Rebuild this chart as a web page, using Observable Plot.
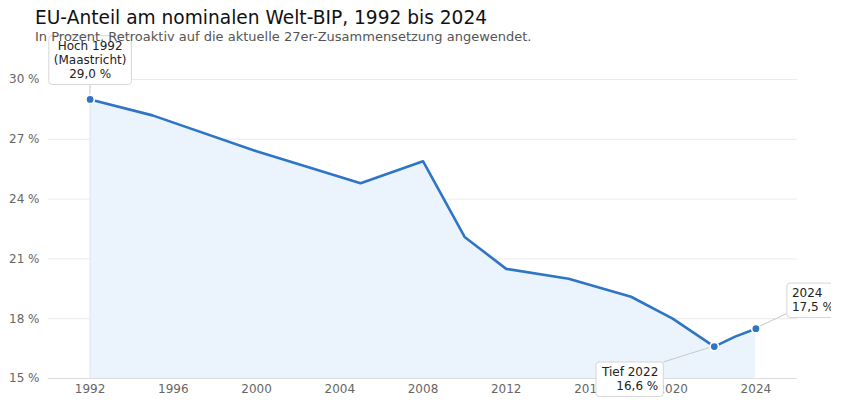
<!DOCTYPE html>
<html>
<head>
<meta charset="utf-8">
<script src="https://cdn.jsdelivr.net/npm/d3@7"></script>
<script src="https://cdn.jsdelivr.net/npm/@observablehq/plot@0.6"></script>
<style>
  html, body { margin: 0; padding: 0; background: #fff; }
  body { width: 847px; height: 409px; overflow: hidden; font-family: "DejaVu Sans", sans-serif; position: relative; }
  #title { position: relative; z-index: 2; margin: 7px 0 0 35px; font-size: 18.6px; line-height: 22px; color: #111; white-space: nowrap; }
  #subtitle { position: relative; z-index: 2; margin: 0 0 0 35px; font-size: 13px; line-height: 16px; color: #555; white-space: nowrap; }
  #chart { position: absolute; z-index: 1; left: 0; top: 0; width: 831px; height: 409px; overflow: hidden; padding-top: 45px; box-sizing: border-box; }
  #chart svg { overflow: visible; display: block; }
</style>
</head>
<body>
<div id="title">EU-Anteil am nominalen Welt-BIP, 1992 bis 2024</div>
<div id="subtitle">In Prozent. Retroaktiv auf die aktuelle 27er-Zusammensetzung angewendet.</div>
<div id="chart"></div>
<script>
// Data
const years  = [1992, 1995, 2000, 2005, 2008, 2010, 2012, 2015, 2018, 2020, 2022, 2023, 2024];
const shares = [29.0, 28.2, 26.4, 24.8, 25.9, 22.1, 20.5, 20.0, 19.1, 18.0, 16.6, 17.1, 17.5];
const xTicks = [1992, 1996, 2000, 2004, 2008, 2012, 2016, 2020, 2024];
const yTicks = [15, 18, 21, 24, 27, 30];
const annYears  = [1992, 2022, 2024];
const annValues = [29.0, 16.6, 17.5];
const annLabels = ["Hoch 1992\n(Maastricht)\n29,0 %", "Tief 2022\n16,6 %", "2024\n17,5 %"];

const data = years.map((year, i) => ({year, value: shares[i]}));
const ann = annYears.map((year, i) => ({year, value: annValues[i], label: annLabels[i]}));

const blue = "#2e75c6";
const textStyle = {x: "year", y: "value", text: "label", fill: "#222", fontSize: 12, lineHeight: 1.2, lineAnchor: "middle"};

const chart = Plot.plot({
  width: 831,
  height: 364,
  marginTop: 34,
  marginBottom: 31,
  marginLeft: 48,
  marginRight: 34,
  style: {fontFamily: "DejaVu Sans, sans-serif", fontSize: "12px", color: "#666", background: "transparent", overflow: "visible"},
  x: {domain: [1990, 2026], ticks: xTicks, tickFormat: d => String(d), tickSize: 0, tickPadding: 6, label: null},
  y: {domain: [15, 30], ticks: yTicks, tickFormat: d => d + " %", tickSize: 0, tickPadding: 9, label: null},
  marks: [
    Plot.gridY(yTicks, {stroke: "#ebebeb", strokeOpacity: 1}),
    Plot.areaY(data, {x: "year", y1: 15, y2: "value", fill: "#ebf3fc"}),
    Plot.ruleX([1992], {y1: 15, y2: 29.0, stroke: "#dfe7f1", strokeWidth: 1}),
    Plot.ruleY([15], {stroke: "#dcdcdc"}),
    Plot.line(data, {x: "year", y: "value", stroke: blue, strokeWidth: 2.6, strokeLinejoin: "round"}),
    Plot.dot(ann, {x: "year", y: "value", r: 4.2, fill: blue, stroke: "white", strokeWidth: 1.6}),
    Plot.text([ann[0]], {...textStyle, textAnchor: "middle", dy: -40}),
    Plot.text([ann[1]], {...textStyle, textAnchor: "end", dx: -56, dy: 32}),
    Plot.text([ann[2]], {...textStyle, textAnchor: "start", dx: 36, dy: -29})
  ]
});

document.getElementById("chart").appendChild(chart);

// Boxes behind annotation texts and leader lines to the points
const svgNS = "http://www.w3.org/2000/svg";
const sx = chart.scale("x"), sy = chart.scale("y");
const svgRect = chart.getBoundingClientRect();
const texts = chart.querySelectorAll('g[aria-label="text"] text');
const boxes = [];
texts.forEach(t => {
  const bb = t.getBBox();
  const r = document.createElementNS(svgNS, "rect");
  r.setAttribute("x", bb.x - 5);
  r.setAttribute("y", bb.y - 3);
  r.setAttribute("width", bb.width + 10);
  r.setAttribute("height", bb.height + 6);
  r.setAttribute("rx", 3);
  r.setAttribute("fill", "white");
  r.setAttribute("stroke", "#d6d6d6");
  r.setAttribute("stroke-width", 1);
  if (t.getAttribute("transform")) r.setAttribute("transform", t.getAttribute("transform"));
  t.parentNode.insertBefore(r, t);
  const cr = r.getBoundingClientRect();
  boxes.push({x: cr.left - svgRect.left, y: cr.top - svgRect.top, w: cr.width, h: cr.height});
});
const dotGroup = chart.querySelector('g[aria-label="dot"]');
const leaders = [
  b => [b.x + b.w / 2, b.y + b.h],
  b => [b.x + b.w, b.y],
  b => [b.x, b.y + b.h - 4]
];
ann.forEach((a, i) => {
  if (!boxes[i]) return;
  const [ex, ey] = leaders[i](boxes[i]);
  const l = document.createElementNS(svgNS, "line");
  l.setAttribute("x1", sx.apply(a.year));
  l.setAttribute("y1", sy.apply(a.value));
  l.setAttribute("x2", ex);
  l.setAttribute("y2", ey);
  l.setAttribute("stroke", "#c8c8c8");
  l.setAttribute("stroke-width", 1);
  dotGroup.parentNode.insertBefore(l, dotGroup);
});
</script>
</body>
</html>
